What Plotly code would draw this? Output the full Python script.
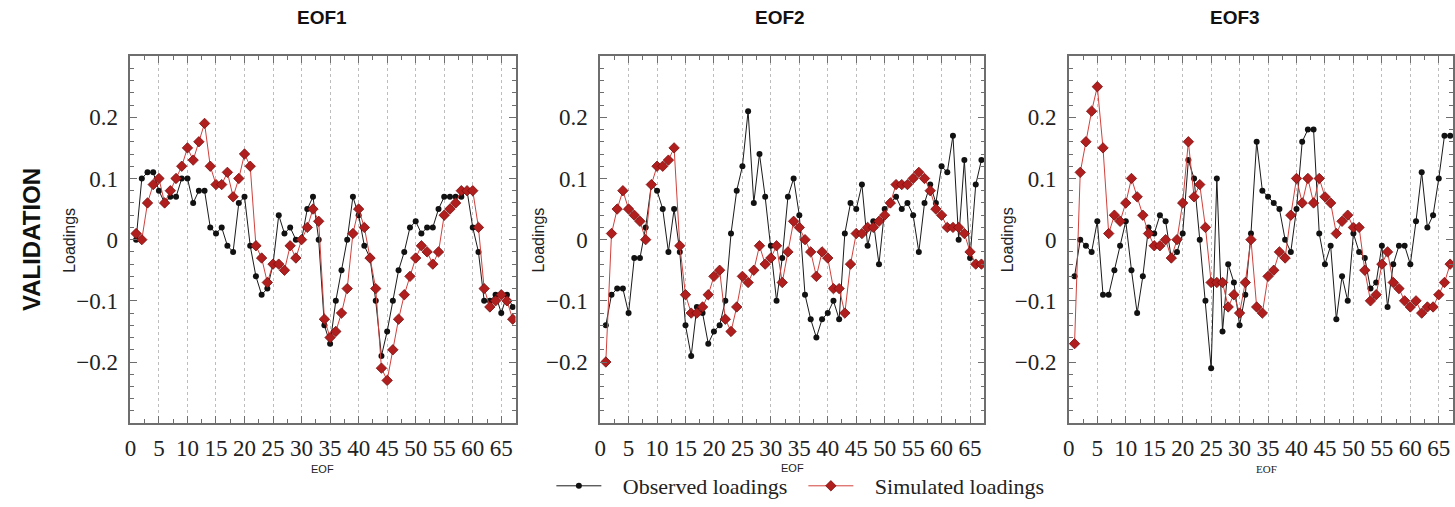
import plotly.graph_objects as go

# EOF index (1..67)
eof_index = list(range(1, 68))

# Loadings for each EOF: observed vs simulated
obs_eof1 = [0.00, 0.10, 0.11, 0.11, 0.08, 0.06, 0.07, 0.07, 0.10, 0.10,
            0.06, 0.08, 0.08, 0.02, 0.01, 0.02, -0.01, -0.02, 0.06, 0.07,
            -0.01, -0.06, -0.09, -0.08, -0.04, 0.04, 0.01, 0.02, 0.00, 0.00,
            0.05, 0.07, 0.00, -0.14, -0.17, -0.10, -0.05, 0.00, 0.07, 0.04,
            -0.01, -0.03, -0.10, -0.19, -0.15, -0.10, -0.05, -0.02, 0.02, 0.03,
            0.01, 0.02, 0.02, 0.05, 0.07, 0.07, 0.07, 0.07, 0.08, 0.02,
            -0.02, -0.10, -0.10, -0.09, -0.12, -0.09, -0.11]
sim_eof1 = [0.01, 0.00, 0.06, 0.09, 0.10, 0.06, 0.08, 0.10, 0.12, 0.15,
            0.13, 0.16, 0.19, 0.12, 0.09, 0.09, 0.11, 0.07, 0.10, 0.14,
            0.12, -0.01, -0.03, -0.07, -0.04, -0.04, -0.05, -0.01, -0.03, 0.00,
            0.02, 0.05, 0.03, -0.13, -0.16, -0.15, -0.12, -0.08, 0.01, 0.05,
            0.02, -0.03, -0.08, -0.21, -0.23, -0.18, -0.13, -0.09, -0.06, -0.03,
            -0.01, -0.02, -0.04, -0.02, 0.04, 0.05, 0.06, 0.08, 0.08, 0.08,
            0.02, -0.08, -0.11, -0.10, -0.09, -0.10, -0.13]

obs_eof2 = [-0.14, -0.09, -0.08, -0.08, -0.12, -0.03, -0.03, 0.02, 0.09, 0.08,
            0.05, -0.02, 0.05, -0.02, -0.14, -0.19, -0.11, -0.12, -0.17, -0.15,
            -0.14, -0.10, 0.01, 0.08, 0.12, 0.21, 0.06, 0.14, 0.07, -0.01,
            -0.10, -0.03, 0.07, 0.10, 0.04, -0.09, -0.13, -0.16, -0.13, -0.12,
            -0.10, -0.13, 0.01, 0.06, 0.05, 0.09, -0.01, 0.03, -0.04, 0.05,
            0.06, 0.07, 0.05, 0.06, 0.04, -0.02, 0.06, 0.09, 0.06, 0.12,
            0.11, 0.17, 0.00, 0.13, -0.03, 0.09, 0.13]
sim_eof2 = [-0.20, 0.01, 0.05, 0.08, 0.05, 0.04, 0.03, 0.00, 0.09, 0.12,
            0.12, 0.13, 0.15, -0.01, -0.09, -0.12, -0.12, -0.11, -0.09, -0.06,
            -0.05, -0.13, -0.15, -0.11, -0.06, -0.07, -0.05, -0.01, -0.04, -0.03,
            -0.01, -0.07, -0.02, 0.03, 0.02, 0.00, -0.02, -0.06, -0.02, -0.03,
            -0.08, -0.08, -0.12, -0.04, 0.01, 0.01, 0.02, 0.02, 0.03, 0.04,
            0.06, 0.09, 0.09, 0.09, 0.10, 0.11, 0.10, 0.08, 0.05, 0.04,
            0.02, 0.02, 0.02, 0.01, -0.02, -0.04, -0.04]

obs_eof3 = [-0.06, 0.00, -0.01, -0.02, 0.03, -0.09, -0.09, -0.05, -0.01, 0.03,
            -0.05, -0.12, -0.06, 0.02, 0.01, 0.04, 0.03, -0.03, -0.02, 0.01,
            0.13, 0.10, 0.00, -0.10, -0.21, 0.10, -0.15, -0.04, -0.07, -0.14,
            -0.09, 0.01, 0.16, 0.08, 0.07, 0.06, 0.05, 0.00, -0.02, 0.05,
            0.16, 0.18, 0.18, 0.01, -0.04, -0.01, -0.13, -0.06, -0.10, 0.01,
            -0.02, -0.03, -0.08, -0.07, -0.01, -0.11, -0.04, -0.01, -0.01, -0.04,
            0.03, 0.11, 0.02, 0.04, 0.10, 0.17, 0.17]
sim_eof3 = [-0.17, 0.11, 0.16, 0.21, 0.25, 0.15, 0.01, 0.04, 0.03, 0.06,
            0.10, 0.07, 0.04, 0.01, -0.01, -0.01, 0.00, -0.03, 0.00, 0.06,
            0.16, 0.07, 0.09, 0.02, -0.07, -0.07, -0.07, -0.11, -0.09, -0.12,
            -0.07, 0.00, -0.11, -0.12, -0.06, -0.05, -0.02, -0.03, 0.04, 0.10,
            0.06, 0.10, 0.06, 0.10, 0.07, 0.06, 0.01, 0.03, 0.04, 0.02,
            0.02, -0.05, -0.10, -0.09, -0.04, -0.02, -0.07, -0.08, -0.10, -0.11,
            -0.10, -0.12, -0.11, -0.11, -0.09, -0.07, -0.04]

panel_titles = ["EOF1", "EOF2", "EOF3"]
x_tickvals = list(range(0, 66, 5))
y_tickvals = [-0.2, -0.1, 0, 0.1, 0.2]
y_ticktext = ["\u22120.2", "\u22120.1", "0", "0.1", "0.2"]

W, H = 1455, 507
# pixel extents of each panel (left, right)
panel_px = [(125, 512), (597, 983), (1068, 1454)]
top_px, bottom_px = 57, 430
title_cx = [318, 778, 1235]

OBS_LINE = "#1a1a1a"
SIM_LINE = "#d0413c"
SIM_FILL = "#b01e1e"
SIM_EDGE = "#7a0d0d"
AXIS_COL = "#6e6e6e"

serif = "Liberation Serif, Times New Roman, serif"
sans = "Liberation Sans, Arial, sans-serif"

fig = go.Figure()

series = [(obs_eof1, sim_eof1), (obs_eof2, sim_eof2), (obs_eof3, sim_eof3)]
for i, (obs, sim) in enumerate(series):
    sfx = "" if i == 0 else str(i + 1)
    fig.add_trace(go.Scatter(
        x=eof_index, y=obs, mode="lines+markers",
        name="\u00a0\u00a0\u00a0Observed loadings",
        line=dict(color=OBS_LINE, width=1),
        marker=dict(symbol="circle", size=6, color="#111111"),
        xaxis="x" + sfx, yaxis="y" + sfx,
        showlegend=(i == 0), legendgroup="obs",
    ))
    fig.add_trace(go.Scatter(
        x=eof_index, y=sim, mode="lines+markers",
        name="\u00a0\u00a0\u00a0Simulated loadings",
        line=dict(color=SIM_LINE, width=1),
        marker=dict(symbol="diamond", size=8, color=SIM_FILL,
                    line=dict(color=SIM_EDGE, width=0.8)),
        xaxis="x" + sfx, yaxis="y" + sfx,
        showlegend=(i == 0), legendgroup="sim",
    ))

ydom = [1 - bottom_px / H, 1 - top_px / H]
layout = dict(
    width=W, height=H, autosize=False,
    margin=dict(l=0, r=0, t=0, b=0),
    paper_bgcolor="white", plot_bgcolor="white",
    showlegend=True,
    legend=dict(
        orientation="h", x=548 / W, xanchor="left", y=1 - 494 / H, yanchor="middle",
        font=dict(family=serif, size=22, color="#222222"),
        itemwidth=45, entrywidth=192, entrywidthmode="pixels",
        bgcolor="rgba(0,0,0,0)", tracegroupgap=0,
    ),
)

annotations = []
for i, (l, r) in enumerate(panel_px):
    sfx = "" if i == 0 else str(i + 1)
    layout["xaxis" + sfx] = dict(
        domain=[l / W, r / W], anchor="y" + sfx, range=[0, 67.5],
        tickmode="array", tickvals=x_tickvals,
        ticks="inside", ticklen=7, tickwidth=1, tickcolor=AXIS_COL,
        minor=dict(dtick=2.5, tick0=0, ticks="inside", ticklen=4, tickcolor=AXIS_COL,
                   showgrid=False),
        showgrid=True, gridcolor="#bdbdbd", griddash="dot", gridwidth=1,
        showline=True, linecolor=AXIS_COL, linewidth=1.5, mirror="allticks",
        zeroline=False,
        tickfont=dict(family=serif, size=23, color="#222222"),
        ticklabelstandoff=3,
    )
    layout["yaxis" + sfx] = dict(
        domain=ydom, anchor="x" + sfx, range=[-0.3, 0.3],
        tickmode="array", tickvals=y_tickvals, ticktext=y_ticktext,
        ticks="inside", ticklen=7, tickwidth=1, tickcolor=AXIS_COL,
        minor=dict(dtick=0.02, tick0=0, ticks="inside", ticklen=4, tickcolor=AXIS_COL,
                   showgrid=False),
        showgrid=False, zeroline=False,
        showline=True, linecolor=AXIS_COL, linewidth=1.5, mirror="allticks",
        tickfont=dict(family=serif, size=23, color="#222222"),
        ticklabelstandoff=6,
    )
    # panel title
    annotations.append(dict(
        text="<b>%s</b>" % panel_titles[i], x=title_cx[i] / W, y=1 - 18 / H,
        xref="paper", yref="paper", showarrow=False,
        font=dict(family=sans, size=19, color="#111111"),
        xanchor="center", yanchor="middle",
    ))
    # y-axis label
    annotations.append(dict(
        text="Loadings", x=(l - 62) / W, y=1 - 244 / H, textangle=-90,
        xref="paper", yref="paper", showarrow=False,
        font=dict(family=sans, size=16, color="#222222"),
        xanchor="center", yanchor="middle",
    ))
    # x-axis label
    annotations.append(dict(
        text="EOF", x=((l + r) / 2 + (6 if i == 2 else 0)) / W,
        y=1 - (477 if i != 1 else 475) / H,
        xref="paper", yref="paper", showarrow=False,
        font=dict(family=(serif if i == 2 else sans), size=11, color="#222222"),
        xanchor="center", yanchor="middle",
    ))

annotations.append(dict(
    text="<b>VALIDATION</b>", x=25 / W, y=1 - 243 / H, textangle=-90,
    xref="paper", yref="paper", showarrow=False,
    font=dict(family=sans, size=24, color="#111111"),
    xanchor="center", yanchor="middle",
))
layout["annotations"] = annotations

fig.update_layout(**layout)
fig.write_html("out.html")
